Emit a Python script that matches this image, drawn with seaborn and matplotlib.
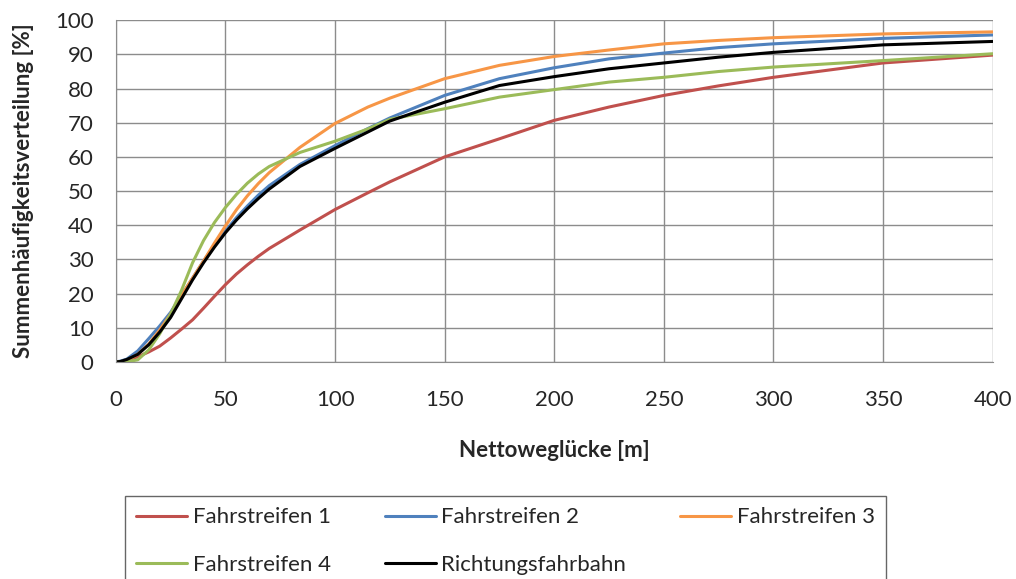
import pandas as pd
import numpy as np
import matplotlib
matplotlib.use("Agg")
import matplotlib.pyplot as plt
import seaborn as sns

# distance [m] and cumulative share [%]
gap_m = [0, 2, 5, 10, 15, 20, 25, 30, 35, 40, 45, 50, 55, 60, 65, 70, 84, 100,
         115, 125, 150, 175, 200, 225, 250, 275, 300, 350, 400]

fs1 = [0, 0, 0.4, 1.5, 2.9, 4.6, 7.0, 9.6, 12.3, 15.7, 19.2, 22.6, 25.7, 28.4, 30.9, 33.2, 38.6, 44.6,
       49.5, 52.7, 60, 65.3, 70.7, 74.6, 78, 80.8, 83.3, 87.5, 89.8]
fs2 = [0, 0.2, 0.8, 3.2, 6.8, 10.5, 14.5, 19.5, 24.5, 29.5, 34.2, 38.3, 42.2, 45.6, 48.8, 51.6, 57.8, 63.3,
       68.3, 71.4, 78, 82.9, 86.1, 88.7, 90.4, 92, 93.1, 94.7, 95.7]
fs3 = [0, 0, 0.4, 2.2, 5.2, 9.3, 14, 19.5, 24.5, 29.5, 34.8, 39.8, 44.5, 48.6, 52.2, 55.4, 62.8, 69.8,
       74.6, 77.2, 82.9, 86.8, 89.4, 91.3, 93.1, 94.1, 94.9, 96, 96.6]
fs4 = [0, 0, 0, 0.6, 3.5, 8.2, 14, 21, 29, 35.5, 40.8, 45.2, 49.0, 52.3, 55.0, 57.2, 61.3, 64.6,
       68.2, 71, 74.1, 77.5, 79.7, 81.9, 83.3, 85, 86.3, 88.2, 90.2]
richtung = [0, 0.1, 0.7, 2.2, 5, 8.7, 13, 18.5, 24, 29, 33.6, 37.8, 41.5, 44.8, 47.8, 50.6, 57.2, 62.5,
            67.3, 70.5, 76, 80.9, 83.5, 85.8, 87.5, 89.2, 90.6, 92.8, 93.8]

names = ["Fahrstreifen 1", "Fahrstreifen 2", "Fahrstreifen 3", "Fahrstreifen 4", "Richtungsfahrbahn"]
colors = ["#C0504D", "#4F81BD", "#F79646", "#9BBB59", "#000000"]

frames = []
for name, vals in zip(names, [fs1, fs2, fs3, fs4, richtung]):
    frames.append(pd.DataFrame({"x": gap_m, "y": vals, "serie": name}))
df = pd.concat(frames, ignore_index=True)

sns.set_style("white")
plt.rcParams['font.family'] = ['Lato', 'DejaVu Sans']

fig = plt.figure(figsize=(10.16, 5.79), dpi=100)
ax = fig.add_axes([0.114, 0.375, 0.863, 0.59])

sns.lineplot(data=df, x="x", y="y", hue="serie", hue_order=names,
             palette=dict(zip(names, colors)), linewidth=2.2, legend=False, ax=ax)

ax.set_xlim(0, 400)
ax.set_ylim(0, 100)
ax.set_xticks(np.arange(0, 401, 50))
ax.set_yticks(np.arange(0, 101, 10))
ax.grid(True, color="#8C8C8C", linewidth=1.0)
ax.set_axisbelow(True)
for s in ["top", "right"]:
    ax.spines[s].set_visible(False)
for s in ["left", "bottom"]:
    ax.spines[s].set_color("#8C8C8C")
ax.tick_params(axis="both", direction="out", length=5, color="#8C8C8C", labelsize=16)
ax.tick_params(axis="x", pad=15)
ax.tick_params(axis="y", pad=11)

ax.set_xlabel("Nettoweglücke [m]", fontsize=16, fontweight="bold")
ax.set_ylabel("Summenhäufigkeitsverteilung [%]", fontsize=16, fontweight="bold")
ax.xaxis.set_label_coords(0.5, -0.228)
ax.yaxis.set_label_coords(-0.093, 0.5)

# legend row-wise order: F1 F2 F3 / F4 Richtung
lines = ax.get_lines()
order = [0, 3, 1, 4, 2]
handles = [lines[i] for i in order]
labels = [names[i] for i in order]
leg = fig.legend(handles, labels, loc="upper left", ncol=3,
                 bbox_to_anchor=(0.123, 0.0, 0.749, 0.143), mode="expand",
                 fontsize=16, frameon=True, fancybox=False, edgecolor="#404040",
                 handlelength=2.3, handletextpad=0.25, labelspacing=1.25,
                 borderpad=0.5, borderaxespad=0)
leg.get_frame().set_linewidth(1.0)

fig.savefig("out.png", dpi=100)
